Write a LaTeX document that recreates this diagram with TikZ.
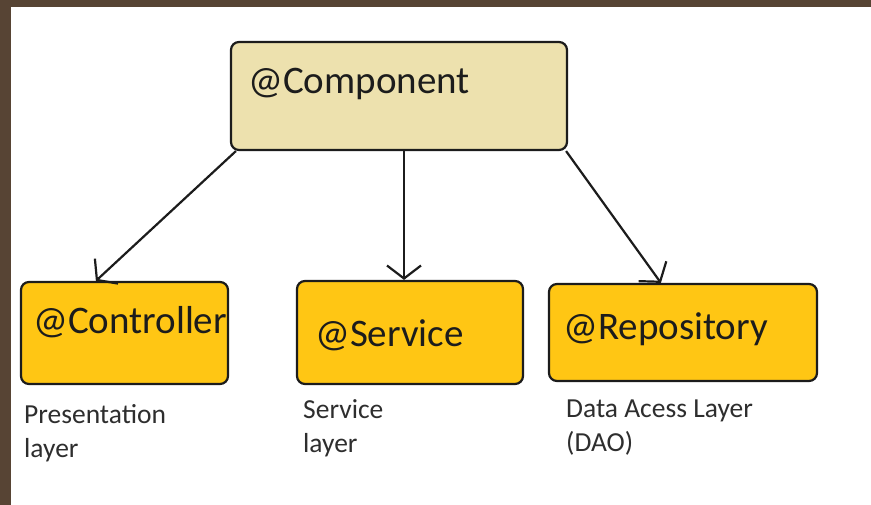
\documentclass[tikz,border=0pt]{standalone}
\usepackage{fontspec}
\setmainfont{Carlito}
\usepackage{tikz}
\usetikzlibrary{arrows.meta,positioning}
\definecolor{frame}{HTML}{574434}
\definecolor{annot}{HTML}{EDE1AE}
\definecolor{stereo}{HTML}{FFC614}
\definecolor{ink}{HTML}{1C1C1C}
\definecolor{note}{HTML}{2E2E2E}

\begin{document}
\begin{tikzpicture}[
  x=1pt,y=-1pt,
  box/.style={draw=ink,line width=2.2pt,rounded corners=8pt,inner sep=0pt},
  rootbox/.style={box,fill=annot},
  layerbox/.style={box,fill=stereo},
  tag/.style={anchor=base west,inner sep=0pt,font=\fontsize{39}{42}\selectfont,text=ink},
  caption/.style={anchor=base west,inner sep=0pt,align=left,
    font=\fontsize{27.5}{34}\selectfont,text=note},
  a/.style={-{Straight Barb[length=13pt,width=34pt,line width=2.2pt]},line width=2.2pt,draw=ink}
]
\useasboundingbox (0,0) rectangle (871,505);
\fill[white] (0,0) rectangle (871,505);
\fill[frame] (0,0) rectangle (871,7);
\fill[frame] (0,0) rectangle (11,505);

% boxes
\node[rootbox,minimum width=336pt,minimum height=108pt] (comp) at (399,96) {};
\node[layerbox,minimum width=207pt,minimum height=102pt] (ctrl) at (124.5,333) {};
\node[layerbox,minimum width=226pt,minimum height=103pt] (serv) at (410,332.5) {};
\node[layerbox,minimum width=268pt,minimum height=97pt] (repo) at (683,332.5) {};

% texts
\node[tag] (compt) at (248,94) {@Component};
\node[tag] (ctrlt) at (33,334) {@Controller};
\node[tag] (servt) at (315,346) {@Service};
\node[tag] (repot) at (563,340) {@Repository};

\node[caption] (ctrlc) at (24,457) {Presentation\\layer};
\node[caption] (servc) at (303,452) {Service\\layer};
\node[caption] (repoc) at (566,451) {Data Acess Layer\\(DAO)};

% arrows
\draw[a] ([xshift=6pt]comp.south west) -- ([xshift=76pt]ctrl.north west);
\draw[a] ([xshift=5pt]comp.south) -- ([xshift=-6pt]serv.north);
\draw[a] ([xshift=-2pt]comp.south east) -- ([xshift=113pt]repo.north west);
\end{tikzpicture}
\end{document}
